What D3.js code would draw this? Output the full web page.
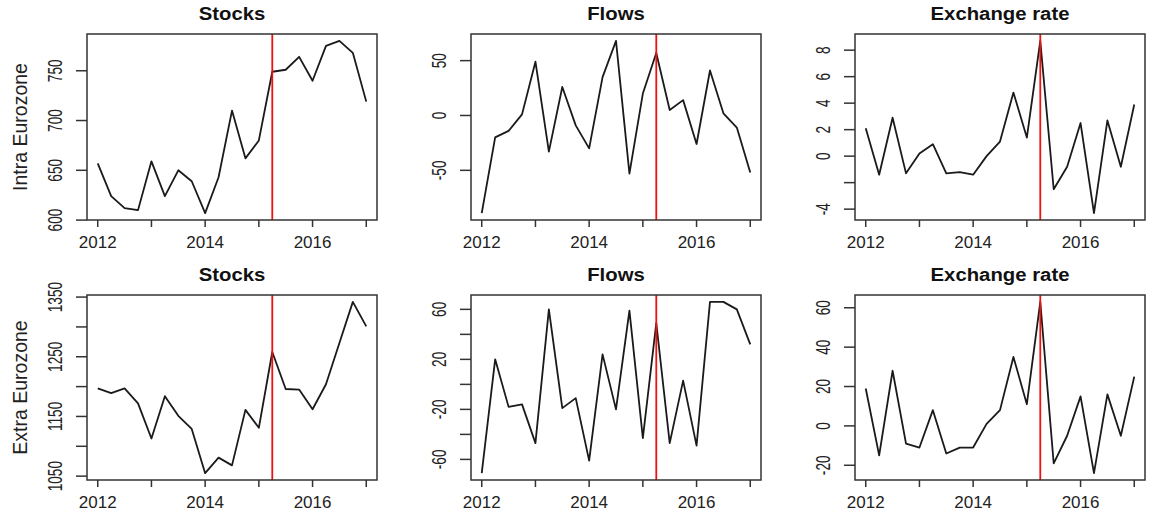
<!DOCTYPE html>
<html>
<head>
<meta charset="utf-8">
<script src="https://cdn.jsdelivr.net/npm/d3@7"></script>
<style>
  body { margin: 0; background: #fff; }
  svg { display: block; font-family: "Liberation Sans", Arial, sans-serif; }
</style>
</head>
<body>
<svg width="1152" height="512"></svg>
<script>
// quarterly observations, 2012 Q1 .. 2017 Q1
const quarters = d3.range(21).map((i) => 2012 + i / 4);

const intraStocks = [657, 624, 612, 610, 659, 624, 650, 639, 607, 643, 710, 662,
                     680, 749, 751, 764, 740, 775, 780, 768, 719];
const intraFlows = [-89, -20, -14, 1, 49, -33, 26, -9, -30, 35, 68, -53,
                    20, 57, 5, 14, -26, 41, 2, -11, -52];
const intraFx = [2.1, -1.4, 2.9, -1.3, 0.2, 0.9, -1.3, -1.2, -1.4, 0.0, 1.1, 4.8,
                 1.4, 8.7, -2.5, -0.8, 2.5, -4.3, 2.7, -0.8, 3.9];

const extraStocks = [1197, 1189, 1197, 1172, 1113, 1184, 1151, 1129, 1055, 1081, 1068, 1161,
                     1131, 1258, 1196, 1195, 1162, 1204, 1273, 1342, 1301];
const extraFlows = [-71, 20, -18, -16, -47, 60, -19, -11, -61, 24, -20, 59,
                    -43, 49, -47, 3, -49, 66, 66, 60, 32];
const extraFx = [19, -15, 28, -9, -11, 8, -14, -11, -11, 1, 8, 35,
                 11, 63, -19, -5, 15, -24, 16, -5, 25];

const panelTitles = ['Stocks', 'Flows', 'Exchange rate'];
const rowLabels = ['Intra Eurozone', 'Extra Eurozone'];

const xTicks = [2012, 2013, 2014, 2015, 2016, 2017];
const xLabels = [2012, 2014, 2016];

const yTicks = [
  [[600, 650, 700, 750], [-50, 0, 50], [-4, -2, 0, 2, 4, 6, 8]],
  [[1050, 1100, 1150, 1200, 1250, 1300, 1350], [-60, -40, -20, 0, 20, 40, 60], [-20, 0, 20, 40, 60]]
];
const yLabels = [
  [[600, 650, 700, 750], [-50, 0, 50], [-4, 0, 2, 4, 6, 8]],
  [[1050, 1150, 1250, 1350], [-60, -20, 20, 60], [-20, 0, 20, 40, 60]]
];

const breakDate = 2015.25;

const series = [[intraStocks, intraFlows, intraFx], [extraStocks, extraFlows, extraFx]];

const svg = d3.select('svg'),
      colLeft = [87, 471, 855],
      boxW = 290,
      rowTop = [34, 295],
      rowBottom = [220, 480];

series.forEach((row, r) => {
  const top = rowTop[r], bottom = rowBottom[r];

  svg.append('text')
    .attr('transform', `translate(20,${(top + bottom) / 2}) rotate(-90)`)
    .attr('text-anchor', 'middle')
    .attr('dy', '0.36em')
    .attr('font-size', 19.5)
    .attr('fill', '#222')
    .text(rowLabels[r]);

  row.forEach((values, c) => {
    const left = colLeft[c], right = left + boxW;

    const x = d3.scaleLinear()
      .domain([2012 - 0.2, 2017 + 0.2])
      .range([left, right]);

    const [lo, hi] = d3.extent(values),
          pad = (hi - lo) * 0.04;
    const y = d3.scaleLinear()
      .domain([lo - pad, hi + pad])
      .range([bottom, top]);

    const g = svg.append('g');

    // x axis
    g.selectAll('.xtick')
      .data(xTicks)
      .enter()
      .append('line')
        .attr('x1', (d) => x(d))
        .attr('x2', (d) => x(d))
        .attr('y1', bottom)
        .attr('y2', bottom + 7)
        .attr('stroke', '#333')
        .attr('stroke-width', 1.5);

    g.selectAll('.xlab')
      .data(xLabels)
      .enter()
      .append('text')
        .attr('x', (d) => x(d))
        .attr('y', bottom + 28)
        .attr('text-anchor', 'middle')
        .attr('font-size', 17)
        .attr('fill', '#222')
        .text((d) => d);

    // y axis
    g.selectAll('.ytick')
      .data(yTicks[r][c])
      .enter()
      .append('line')
        .attr('x1', left - 11)
        .attr('x2', left)
        .attr('y1', (d) => y(d))
        .attr('y2', (d) => y(d))
        .attr('stroke', '#333')
        .attr('stroke-width', 1.5);

    g.selectAll('.ylab')
      .data(yLabels[r][c])
      .enter()
      .append('text')
        .attr('transform', (d) => `translate(${left - 25},${y(d)}) rotate(-90) scale(0.7,1)`)
        .attr('text-anchor', 'middle')
        .attr('font-size', 19.5)
        .attr('fill', '#222')
        .text((d) => d);

    // series
    const line = d3.line()
      .x((d, i) => x(quarters[i]))
      .y((d) => y(d));

    g.append('path')
      .datum(values)
      .attr('d', line)
      .attr('fill', 'none')
      .attr('stroke', '#1a1a1a')
      .attr('stroke-width', 1.8)
      .attr('stroke-linejoin', 'round');

    g.append('line')
      .attr('x1', x(breakDate))
      .attr('x2', x(breakDate))
      .attr('y1', top)
      .attr('y2', bottom)
      .attr('stroke', '#ee1111')
      .attr('stroke-width', 1.8);

    g.append('rect')
      .attr('x', left)
      .attr('y', top)
      .attr('width', boxW)
      .attr('height', bottom - top)
      .attr('fill', 'none')
      .attr('stroke', '#333')
      .attr('stroke-width', 1.5);

    g.append('text')
      .attr('transform', `translate(${(left + right) / 2},${top - 14}) scale(1.13,1)`)
      .attr('text-anchor', 'middle')
      .attr('font-size', 18)
      .attr('font-weight', 'bold')
      .attr('fill', '#111')
      .text(panelTitles[c]);
  });
});
</script>
</body>
</html>
